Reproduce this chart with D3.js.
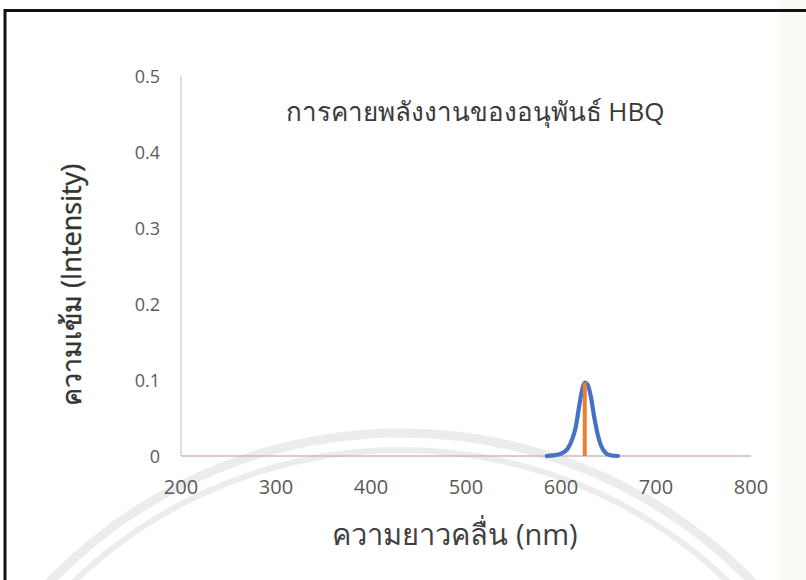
<!DOCTYPE html>
<html><head><meta charset="utf-8">
<script src="https://cdn.jsdelivr.net/npm/d3@7"></script>
<style>
html,body{margin:0;padding:0;background:#fff;}
svg{display:block;}
</style></head>
<body>
<svg id="chart" width="806" height="580"></svg>
<script>
// ---- data ----
const titleText = "การคายพลังงานของอนุพันธ์ HBQ";
const xTitle = "ความยาวคลื่น (nm)";
const yTitle = "ความเข้ม (Intensity)";
const xTicks = [200, 300, 400, 500, 600, 700, 800];
const yTicks = [0, 0.1, 0.2, 0.3, 0.4, 0.5];
// emission spectrum (blue)
const emWavelength = [585, 592, 600, 607, 612, 615.5, 619, 622.5, 625, 628, 631.5, 635, 638.5, 642, 647, 652, 660];
const emIntensity  = [0, 0.0008, 0.0031, 0.0096, 0.0228, 0.038, 0.0645, 0.0886, 0.0965, 0.094, 0.0776, 0.051, 0.029, 0.014, 0.004, 0.001, 0];
// peak marker (orange)
const peakWavelength = [625, 625];
const peakIntensity = [0, 0.097];

// ---- layout ----
const svg = d3.select("#chart");
const W = 806, H = 580;
const x = d3.scaleLinear().domain([200, 800]).range([181, 751]);
const y = d3.scaleLinear().domain([0, 0.5]).range([456, 76]);

// scan background: slightly tinted right strip + faint watermark arcs
svg.append("rect").attr("x", 780).attr("y", 0).attr("width", 26).attr("height", H).attr("fill", "#faf9f6");
const wm = svg.append("g").attr("fill", "none").attr("stroke", "#ececec");
wm.append("circle").attr("cx", 401).attr("cy", 922).attr("r", 489).attr("stroke-width", 9);
wm.append("circle").attr("cx", 401).attr("cy", 922).attr("r", 472).attr("stroke-width", 6);

// frame
svg.append("path").attr("d", `M5,${H+5} L5,10.5 L${W+5},10.5`)
  .attr("fill", "none").attr("stroke", "#111").attr("stroke-width", 3);

// axes lines
svg.append("line").attr("x1", x(200)).attr("x2", x(200)).attr("y1", y(0.5)).attr("y2", y(0))
  .attr("stroke", "#dcc3c3").attr("stroke-width", 1.2);
svg.append("line").attr("x1", x(200)).attr("x2", x(800)).attr("y1", y(0)).attr("y2", y(0))
  .attr("stroke", "#d3b8b2").attr("stroke-width", 1.5);

const font = "'Open Sans', 'Noto Sans', sans-serif";

// tick labels
svg.append("g").selectAll("text").data(yTicks).join("text")
  .attr("x", 160).attr("y", d => y(d) + 1).attr("dy", "0.35em")
  .attr("text-anchor", "end").attr("font-family", font).attr("font-size", 18)
  .attr("fill", "#5a5a5a").text(d => d === 0 ? "0" : d3.format(".1f")(d));
svg.append("g").selectAll("text").data(xTicks).join("text")
  .attr("x", d => x(d)).attr("y", 487).attr("dy", "0.35em")
  .attr("text-anchor", "middle").attr("font-family", font).attr("font-size", 20)
  .attr("fill", "#5a5a5a").text(d => d);

// series
const line = d3.line().x(d => x(d[0])).y(d => y(d[1])).curve(d3.curveMonotoneX);
svg.append("path").datum(emWavelength.map((w, i) => [w, emIntensity[i]]))
  .attr("d", line).attr("fill", "none").attr("stroke", "#4472C4")
  .attr("stroke-width", 4.2).attr("stroke-linejoin", "round").attr("stroke-linecap", "round");
svg.append("path").datum(peakWavelength.map((w, i) => [w, peakIntensity[i]]))
  .attr("d", d3.line().x(d => x(d[0])).y(d => y(d[1])))
  .attr("fill", "none").attr("stroke", "#ED7D31").attr("stroke-width", 4);

// titles
svg.append("text").attr("x", 475).attr("y", 112).attr("dy", "0.35em")
  .attr("text-anchor", "middle").attr("font-family", font).attr("font-size", 26)
  .attr("fill", "#3a3a3a").text(titleText);
svg.append("text").attr("transform", "translate(72,285) rotate(-90)").attr("dy", "0.35em")
  .attr("text-anchor", "middle").attr("font-family", font).attr("font-size", 27)
  .attr("fill", "#333333").attr("stroke", "#333333").attr("stroke-width", 0.4).text(yTitle);
svg.append("text").attr("x", 455).attr("y", 535).attr("dy", "0.35em")
  .attr("text-anchor", "middle").attr("font-family", font).attr("font-size", 29)
  .attr("fill", "#404040").text(xTitle);
</script>
</body></html>
